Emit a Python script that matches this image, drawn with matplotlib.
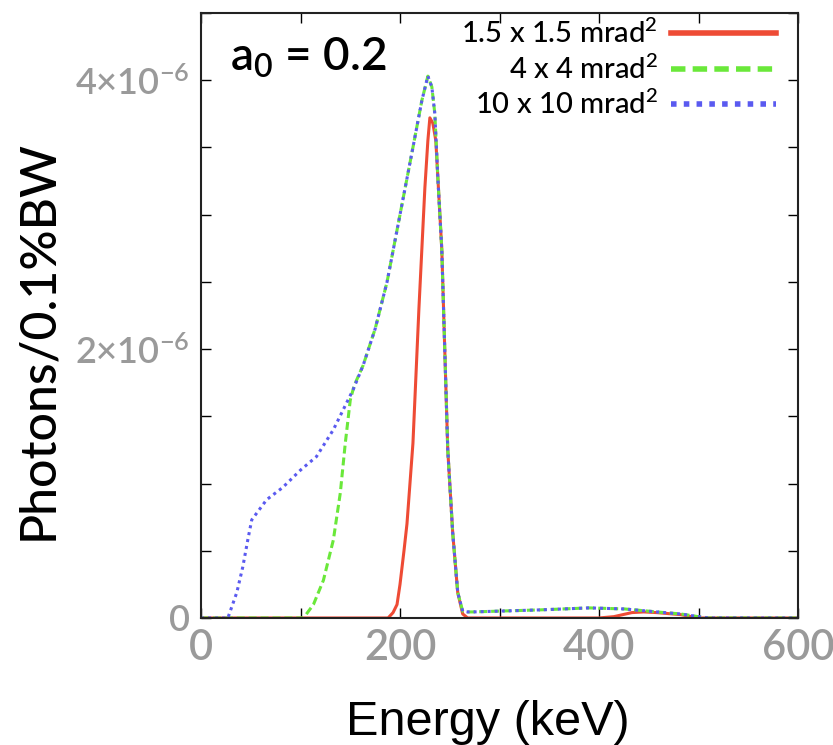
import numpy as np
import matplotlib.pyplot as plt
from matplotlib.lines import Line2D

plt.rcParams['mathtext.fontset'] = 'custom'
plt.rcParams['mathtext.rm'] = 'Lato:semibold'
plt.rcParams['mathtext.default'] = 'regular'

# spectra, photons/0.1%BW in units of 1e-6
e_10 = [0, 27, 36, 42, 47, 51, 60, 66, 82, 100, 116, 133, 153, 163, 175, 187, 200,
        213, 222, 228, 232, 235, 238, 242, 245, 248, 253, 258, 263, 268, 273, 340,
        390, 426, 458, 482, 498, 510, 600]
n_10 = [0, 0, 0.19, 0.38, 0.58, 0.73, 0.82, 0.88, 0.97, 1.10, 1.20, 1.40, 1.70, 1.88,
        2.15, 2.50, 3.00, 3.50, 3.85, 4.03, 3.95, 3.75, 3.28, 2.74, 1.99, 1.25, 0.63,
        0.19, 0.05, 0.045, 0.045, 0.06, 0.075, 0.067, 0.045, 0.03, 0.012, 0, 0]

e_4 = [0, 103, 113, 123, 133, 140, 145, 150, 154, 163, 175, 187, 200, 213, 222, 228,
       232, 235, 238, 242, 245, 248, 253, 258, 263, 268, 273, 340, 390, 426, 458, 482,
       498, 510, 600]
n_4 = [0, 0, 0.10, 0.28, 0.58, 0.93, 1.30, 1.62, 1.73, 1.88, 2.15, 2.50, 3.00, 3.50,
       3.85, 4.03, 3.95, 3.75, 3.28, 2.74, 1.99, 1.25, 0.63, 0.19, 0.05, 0.045, 0.045,
       0.06, 0.075, 0.067, 0.045, 0.03, 0.012, 0, 0]

e_15 = [0, 188, 193, 197, 200, 204, 207, 210, 213, 216, 219, 222, 225, 228, 230, 233,
        236, 238, 242, 245, 248, 253, 258, 263, 268, 400, 415, 433, 445, 458, 482, 500,
        600]
n_15 = [0, 0, 0.04, 0.10, 0.25, 0.50, 0.70, 1.00, 1.30, 1.80, 2.30, 2.75, 3.20, 3.55,
        3.72, 3.68, 3.55, 3.28, 2.74, 1.99, 1.25, 0.63, 0.19, 0.03, 0, 0, 0.01, 0.04,
        0.045, 0.04, 0.025, 0, 0]

labels = [r'1.5 x 1.5 mrad$^2$', r'4 x 4 mrad$^2$', r'10 x 10 mrad$^2$']
c_red, c_green, c_blue = '#ee4b35', '#6ae83a', '#5a5af0'
dash_green = (0, (2.6, 1.3))
dot_blue = (0, (1, 1.3))

fig = plt.figure(figsize=(8.33, 7.45), dpi=100)
ax = fig.add_axes([0.2413, 0.1705, 0.7167, 0.8121])

ax.plot(e_15, n_15, color=c_red, lw=2.2)
ax.plot(e_4, n_4, color=c_green, lw=2.2, linestyle=dash_green)
ax.plot(e_10, n_10, color=c_blue, lw=2.2, linestyle=dot_blue)

ax.set_xlim(0, 600)
ax.set_ylim(0, 4.5)
ax.set_xticks(np.arange(0, 601, 100))
ax.set_xticklabels(['0', '', '200', '', '400', '', '600'])
ax.set_yticks(np.arange(0, 4.51, 0.5))
ax.set_yticklabels(['0', '', '', '', r'$2{\times}10^{-6}$', '', '', '',
                    r'$4{\times}10^{-6}$', ''])

ax.tick_params(direction='in', length=7, width=1, top=True, right=True,
               labelcolor='#9a9a9a')
ax.tick_params(axis='x', labelsize=30, pad=8)
ax.tick_params(axis='y', labelsize=26, pad=8)
for lab in ax.get_xticklabels() + ax.get_yticklabels():
    lab.set_family('Lato')
    lab.set_weight('semibold')
for sp in ax.spines.values():
    sp.set_linewidth(1.5)
    sp.set_color('#222222')

handles = [Line2D([], [], color=c_red, lw=4),
           Line2D([], [], color=c_green, lw=4, linestyle=dash_green),
           Line2D([], [], color=c_blue, lw=4, linestyle=dot_blue)]
leg = ax.legend(handles, labels, loc='upper right', bbox_to_anchor=(0.963, 0.99),
                frameon=False, markerfirst=False, handlelength=3.6, handletextpad=0.45,
                labelspacing=0.22, borderpad=0, borderaxespad=0,
                prop={'family': 'Lato', 'size': 21, 'weight': 'medium'})

ax.text(0.049, 0.926, r'$a_0$ = 0.2', transform=ax.transAxes, fontsize=33,
        family='Lato', weight='semibold', va='center')

fig.text(38 / 833, 1 - 340 / 745, 'Photons/0.1%BW', rotation=90, fontsize=36,
         family='Lato', weight='medium', ha='center', va='center')
fig.text(488 / 833, 1 - 735 / 745, 'Energy (keV)', fontsize=35,
         family='Liberation Sans', ha='center', va='baseline')

fig.savefig('out.png', dpi=100)
